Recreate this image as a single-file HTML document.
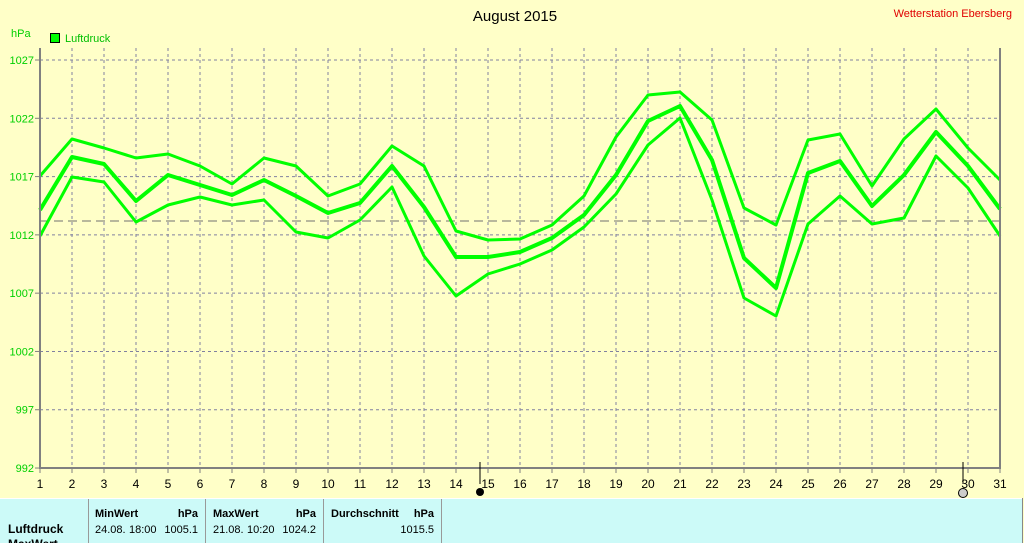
<!DOCTYPE html>
<html><head><meta charset="utf-8"><style>
body{margin:0;width:1024px;height:543px;overflow:hidden;background:#ffffc8;font-family:"Liberation Sans",sans-serif}
</style></head><body>
<svg width="1024" height="543" xmlns="http://www.w3.org/2000/svg" style="position:absolute;left:0;top:0">
<rect width="1024" height="543" fill="#ffffc8"/>
<text x="515" y="21" font-size="15" text-anchor="middle" fill="#000">August 2015</text>
<text x="1012" y="17" font-size="11" text-anchor="end" fill="#e00000">Wetterstation Ebersberg</text>
<text x="11" y="37" font-size="11" fill="#00d000">hPa</text>
<rect x="50.5" y="33.5" width="9" height="9" fill="#00ff00" stroke="#000"/>
<text x="65" y="42" font-size="11" fill="#00c000">Luftdruck</text>
<g id="grid"></g>
<g id="lab"></g>
<line x1="40" y1="221" x2="1000" y2="221" stroke="#707070" stroke-dasharray="9,5"/>
<polyline id="u" fill="none" stroke="#00ff00" stroke-width="3" stroke-linejoin="round"/>
<polyline id="m" fill="none" stroke="#00ff00" stroke-width="4" stroke-linejoin="round"/>
<polyline id="l" fill="none" stroke="#00ff00" stroke-width="3" stroke-linejoin="round"/>
<path d="M40 48V468H1000V48" fill="none" stroke="#808080" stroke-width="2"/>
<line x1="480" y1="462" x2="480" y2="484" stroke="#000"/>
<circle cx="480" cy="492" r="4" fill="#000"/>
<line x1="963" y1="462" x2="963" y2="484" stroke="#000"/>
<circle cx="963" cy="493" r="4.5" fill="#ccc" stroke="#000"/>
<rect x="0" y="498" width="1022" height="45" fill="#ccfaf8"/>
<line x1="0" y1="498.5" x2="1022" y2="498.5" stroke="#fff"/>
<line x1="1022.5" y1="498" x2="1022.5" y2="543" stroke="#888"/>
<g stroke="#999"><line x1="88.5" y1="499" x2="88.5" y2="543"/><line x1="205.5" y1="499" x2="205.5" y2="543"/><line x1="323.5" y1="499" x2="323.5" y2="543"/><line x1="441.5" y1="499" x2="441.5" y2="543"/></g>
<g font-size="11" fill="#000">
<text x="8" y="533" font-weight="bold" font-size="12">Luftdruck</text>
<text x="8" y="548" font-weight="bold" font-size="12">MaxWert</text>
<text x="95" y="517" font-weight="bold">MinWert</text><text x="198" y="517" font-weight="bold" text-anchor="end">hPa</text>
<text x="95" y="533">24.08.</text><text x="129" y="533">18:00</text><text x="198" y="533" text-anchor="end">1005.1</text>
<text x="213" y="517" font-weight="bold">MaxWert</text><text x="316" y="517" font-weight="bold" text-anchor="end">hPa</text>
<text x="213" y="533">21.08.</text><text x="247" y="533">10:20</text><text x="316" y="533" text-anchor="end">1024.2</text>
<text x="331" y="517" font-weight="bold">Durchschnitt</text><text x="434" y="517" font-weight="bold" text-anchor="end">hPa</text>
<text x="434" y="533" text-anchor="end">1015.5</text>
</g>
</svg>
<script>
const ns="http://www.w3.org/2000/svg",g=document.getElementById("grid"),lab=document.getElementById("lab");
function el(t,a,p,txt){const e=document.createElementNS(ns,t);for(const k in a)e.setAttribute(k,a[k]);if(txt)e.textContent=txt;p.appendChild(e);}
for(let d=1;d<=31;d++){const x=40+(d-1)*32;
 if(d>1&&d<31)el("line",{x1:x,y1:48,x2:x,y2:468,stroke:"#8080a0","stroke-dasharray":"3,3"},g);
 el("line",{x1:x,y1:468,x2:x,y2:473,stroke:"#808080"},g);
 el("text",{x:x,y:488,"font-size":12,"text-anchor":"middle",fill:"#000"},lab,""+d);}
for(let i=0;i<8;i++){const v=1027-5*i,y=60+i*58.29;
 if(i<7)el("line",{x1:40,y1:y,x2:1000,y2:y,stroke:"#8080a0","stroke-dasharray":"3,3"},g);
 el("line",{x1:35,y1:y,x2:40,y2:y,stroke:"#808080"},g);
 el("text",{x:34,y:y+4,"font-size":11,"text-anchor":"end",fill:"#00d000"},lab,""+v);}
const U=[176,139,148,158,154,166,184,158,166,196,184,146,166,231,240,239,225,196,137,95,92,120,208,225,140,134,186,139,109,148,180];
const M=[210,157,164,201,175,185,195,180,196,213,203,166,207,257,257,252,238,215,175,121,106,160,258,288,173,161,206,175,132,166,209];
const L=[236,177,182,222,205,197,205,200,232,238,220,187,256,296,274,264,250,227,194,145,118,200,298,316,224,196,224,218,156,188,236];
[["u",U],["m",M],["l",L]].forEach(([id,a])=>document.getElementById(id).setAttribute("points",a.map((y,i)=>(40+i*32)+","+y).join(" ")));
</script>
</body></html>
